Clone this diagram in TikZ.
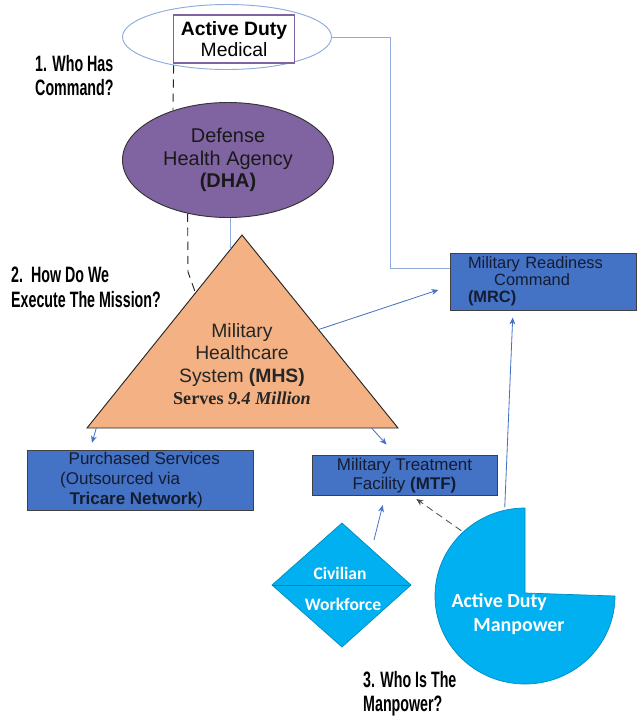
\documentclass[tikz,border=0pt]{standalone}
\usepackage{fontspec}
\setmainfont{Liberation Sans}
\newfontfamily\askfont[FakeStretch=0.64]{Liberation Sans}
\newfontfamily\calfont{Carlito}
\newfontfamily\timesfont{Liberation Serif}
\usetikzlibrary{shapes, arrows.meta, calc, positioning}
\definecolor{link-blue}{RGB}{143,170,220}
\definecolor{flow-blue}{RGB}{68,114,196}
\definecolor{box-blue}{RGB}{68,114,196}
\definecolor{box-text}{RGB}{20,28,50}
\definecolor{dha-purple}{RGB}{128,100,162}
\definecolor{mhs-orange}{RGB}{244,177,131}
\definecolor{man-cyan}{RGB}{0,176,240}

\begin{document}
\begin{tikzpicture}[x=0.03cm, y=-0.03cm,
    bluebox/.style={draw=black!75, fill=box-blue, text=box-text, line width=0.8pt, inner sep=0pt},
    link/.style={link-blue, line width=0.8pt},
    flow/.style={flow-blue, line width=0.7pt, -{Stealth[length=6pt, width=5pt]}},
    dashflow/.style={flow, draw=black!70, dash pattern=on 6pt off 4pt},
    dashlink/.style={black!85, line width=0.8pt, dash pattern=on 7pt off 5pt},
    question/.style={font=\askfont\bfseries\fontsize{19}{20.8}\selectfont, align=left, anchor=north west, inner sep=0pt},
    cyanshape/.style={fill=man-cyan, draw=man-cyan!80!black, line width=0.6pt},
    whitelabel/.style={font=\calfont\bfseries\fontsize{15}{18}\selectfont, text=white, inner sep=0pt}]

    % page frame
    \useasboundingbox (0,0) rectangle (637,723);

    % Active Duty Medical (top)
    \node[ellipse, draw=link-blue, line width=0.8pt, minimum width=6.27cm, minimum height=1.95cm] (topell) at (227,37) {};
    \node[draw=dha-purple, line width=1.1pt, fill=white, minimum width=3.63cm, minimum height=1.44cm, inner sep=0pt, align=center, font=\fontsize{16.5}{17.5}\selectfont] (admed) at (234,39) {\textbf{Active Duty}\\Medical};

    % Defense Health Agency
    \node[ellipse, draw=black!80, fill=dha-purple, line width=0.8pt, minimum width=6.33cm, minimum height=3.45cm, align=center, text=black!90, font=\fontsize{17}{19.5}\selectfont] (dha) at (228,160) {Defense\\Health Agency\\\textbf{(DHA)}};

    % Military Healthcare System triangle
    \coordinate (apex) at (242,235);
    \coordinate (tl) at (87,428);
    \coordinate (tr) at (398,428);
    \draw[fill=mhs-orange, draw=black!85, line width=0.8pt] (apex) -- (tr) -- (tl) -- cycle;
    \node[align=center, text=black!85, font=\fontsize{16.5}{19.2}\selectfont] (mhs) at (242,364) {Military\\Healthcare\\System \textbf{(MHS)}\\{\timesfont\fontsize{15.5}{19.2}\selectfont\bfseries Serves \itshape 9.4 Million}};

    % boxes
    \node[bluebox, minimum width=5.58cm, minimum height=1.71cm, text width=4.5cm, align=left, font=\fontsize{14}{14.5}\selectfont] (mrc) at (543,281.5) {Military Readiness\\\hspace*{1.6em}Command\\\textbf{(MRC)}};
    \node[bluebox, minimum width=6.78cm, minimum height=1.8cm, align=left, font=\fontsize{14.5}{17}\selectfont] (purch) at (140,480) {\hspace*{0.5em}Purchased Services\\(Outsourced via\\\hspace*{0.55em}\textbf{Tricare Network})};
    \node[bluebox, minimum width=5.55cm, minimum height=1.2cm, align=center, font=\fontsize{14.5}{16.5}\selectfont] (mtf) at (404.5,475.5) {Military Treatment\\Facility \textbf{(MTF)}};

    % Civilian Workforce diamond
    \coordinate (dtop) at (342,523);
    \coordinate (dleft) at (272,585);
    \coordinate (dright) at (411,585);
    \coordinate (dbot) at (342,647);
    \draw[cyanshape] (dtop) -- (dright) -- (dbot) -- (dleft) -- cycle;
    \draw[man-cyan!75!black, line width=0.8pt] (dleft) -- (dright);
    \node[whitelabel] (civ) at (340,573) {Civilian};
    \node[whitelabel] (wf) at (343,604) {Workforce};

    % Active Duty Manpower
    \coordinate (adm-c) at (525,593);
    \draw[cyanshape] (adm-c) -- ++(0,-85) arc (270:0:90 and 88) -- cycle;
    \node[whitelabel, align=left, font=\calfont\bfseries\fontsize{17}{21}\selectfont] (admp) at (508,614) {Active Duty\\\hspace*{1.1em}Manpower};

    % questions
    \node[question] (q1) at (35,55) {1. Who Has\\Command?};
    \node[question] (q2) at (11,267) {2.\ \ How Do We\\Execute The Mission?};
    \node[question] (q3) at (363,671) {3. Who Is The\\Manpower?};

    % connectors
    \coordinate (dash-bend) at (188,272);
    \coordinate (mhs-in) at ($(apex)!0.075!(tl)$);
    \coordinate (mhs-r) at ($(apex)!0.49!(tr)$);
    \coordinate (mhs-bl) at ($(tl)!0.03!(tr)$);
    \coordinate (mhs-br) at ($(tl)!0.915!(tr)$);
    \coordinate (civ-out) at (374,540);
    \coordinate (adm-nw) at ($(adm-c)+(225:90 and 88)$);
    \coordinate (adm-n) at ($(adm-c)+(257:90 and 88)$);

    \draw[dashlink] (topell.208) -- (dha.138);
    \draw[dashlink] (dha.233) -- (dash-bend) -- ($(apex)!0.3!(tl)$);
    \draw[link] (mhs-in |- dha.south) -- (mhs-in);
    \draw[link] (topell.east) -- (390,0 |- topell.east) |- (mrc.172);

    \draw[flow, shorten >=10pt] (mhs-r) -- ([yshift=-4pt]mrc.west);
    \draw[flow, shorten >=6pt] (mhs-bl) -- (90,0 |- purch.north);
    \draw[flow, shorten >=12pt] (mhs-br) -- (396,0 |- mtf.north);
    \draw[flow, shorten >=8pt] (civ-out) -- (385,0 |- mtf.south);
    \draw[dashflow, shorten >=4.5pt] (adm-nw) -- (412,0 |- mtf.south);
    \draw[flow, shorten >=6pt] (adm-n) -- (513,0 |- mrc.south);
\end{tikzpicture}
\end{document}
